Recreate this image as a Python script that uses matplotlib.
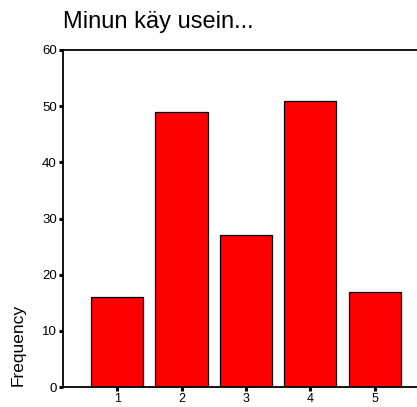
import matplotlib
matplotlib.use("Agg")
import matplotlib.pyplot as plt

categories = [1, 2, 3, 4, 5]
category_labels = ["1", "2", "3", "4", "5"]
frequencies = [16, 49, 27, 51, 17]
y_ticks = [0, 10, 20, 30, 40, 50, 60]

plt.rcParams['font.family'] = ['Liberation Sans', 'DejaVu Sans']

fig = plt.figure(figsize=(4.17, 4.07), dpi=100)
ax = fig.add_axes([63/417, 20/407, 1 - 63/417 + 0.01, (387-50)/407])

ax.bar(categories, frequencies, width=0.81, color='#ff0000', edgecolor='black', linewidth=0.9)
ax.set_xlim(0.16, 5.72)
ax.set_ylim(0, 60)
ax.set_yticks(y_ticks)
ax.set_yticklabels([str(v) for v in y_ticks], fontsize=9.5)
ax.set_xticks(categories)
ax.set_xticklabels(category_labels, fontsize=9)
ax.tick_params(axis='both', direction='out', length=3, width=2.2, pad=1.5, colors='black')
for s in ['left', 'bottom', 'top']:
    ax.spines[s].set_linewidth(1.3)
ax.spines['right'].set_visible(False)

fig.text(63/417, 1 - 22/407, "Minun käy usein...", fontsize=17, ha='left', va='center')
fig.text(18/417, 1 - 345/407, "Frequency", fontsize=12.5, rotation=90, ha='center', va='center')

fig.savefig("out.png", dpi=100)
